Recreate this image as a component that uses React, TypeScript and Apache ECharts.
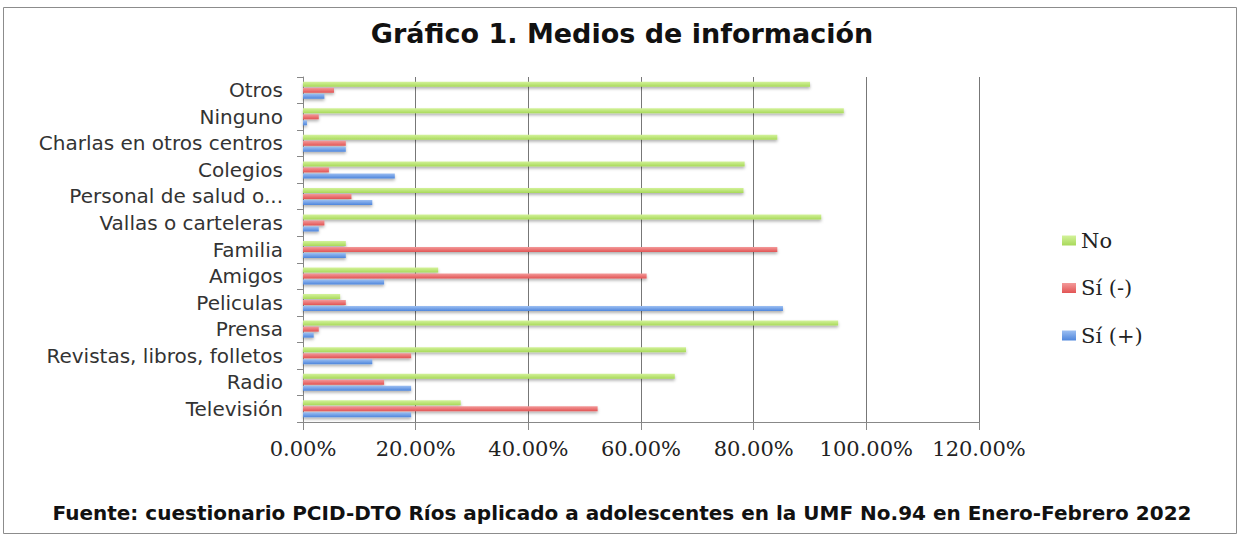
import React, { useEffect, useRef } from "react";
import * as echarts from "echarts";

const categories = [
  "Otros",
  "Ninguno",
  "Charlas en otros centros",
  "Colegios",
  "Personal de salud o...",
  "Vallas o carteleras",
  "Familia",
  "Amigos",
  "Peliculas",
  "Prensa",
  "Revistas, libros, folletos",
  "Radio",
  "Televisión",
];

const seriesNames = ["No", "Sí (-)", "Sí (+)"];

const noValues = [0.9, 0.96, 0.842, 0.784, 0.782, 0.92, 0.076, 0.24, 0.066, 0.95, 0.68, 0.66, 0.28];
const siNegValues = [0.055, 0.028, 0.076, 0.046, 0.086, 0.038, 0.842, 0.61, 0.076, 0.028, 0.192, 0.144, 0.523];
const siPosValues = [0.038, 0.007, 0.076, 0.163, 0.123, 0.028, 0.076, 0.144, 0.852, 0.019, 0.123, 0.192, 0.192];

const xTicks = [0, 0.2, 0.4, 0.6, 0.8, 1.0, 1.2];

const colors = [
  ["#d3f29a", "#a8d95a"],
  ["#f39a9a", "#e25454"],
  ["#9cbff2", "#4f86dc"],
];

export default function App() {
  const ref = useRef<HTMLDivElement>(null);
  useEffect(() => {
    if (!ref.current) return;
    const chart = echarts.init(ref.current, null, { renderer: "svg" });
    const values = [noValues, siNegValues, siPosValues];
    chart.setOption({
      animation: false,
      backgroundColor: "#ffffff",
      title: {
        text: "Gráfico 1. Medios de información",
        left: "center",
        top: 15,
        textStyle: {
          fontFamily: "DejaVu Sans",
          fontWeight: "bold",
          fontSize: 27,
          color: "#111",
        },
      },
      graphic: [
        {
          type: "rect",
          shape: { x: 3.5, y: 7.5, width: 1233, height: 526 },
          style: { fill: "none", stroke: "#8c8c8c", lineWidth: 1 },
          silent: true,
        },
        {
          type: "text",
          left: "center",
          top: 503,
          style: {
            text: "Fuente: cuestionario PCID-DTO Ríos aplicado a adolescentes en la UMF No.94 en Enero-Febrero 2022",
            fontFamily: "DejaVu Sans",
            fontWeight: "bold",
            fontSize: 20,
            fill: "#111",
          },
        },
      ],
      legend: {
        orient: "vertical",
        left: 1057,
        top: 225,
        itemWidth: 14,
        itemHeight: 10,
        itemGap: 26.5,
        icon: "rect",
        data: seriesNames,
        textStyle: { fontFamily: "DejaVu Serif", fontSize: 21, color: "#222" },
      },
      grid: { left: 303, top: 77, right: 265, bottom: 113, containLabel: false },
      xAxis: {
        type: "value",
        min: xTicks[0],
        max: xTicks[xTicks.length - 1],
        interval: 0.2,
        axisLine: { show: true, lineStyle: { color: "#888", width: 1 } },
        axisTick: { show: true, length: 8, lineStyle: { color: "#888" } },
        splitLine: { show: true, lineStyle: { color: "#777", width: 1 } },
        axisLabel: {
          margin: 16,
          fontFamily: "DejaVu Serif",
          fontSize: 21,
          color: "#222",
          formatter: (v: number) => (v * 100).toFixed(2) + "%",
        },
      },
      yAxis: {
        type: "category",
        inverse: true,
        data: categories,
        axisLine: { show: true, lineStyle: { color: "#888", width: 1 } },
        axisTick: { show: true, length: 6, lineStyle: { color: "#888" } },
        axisLabel: {
          margin: 20,
          fontFamily: "DejaVu Sans",
          fontSize: 20,
          color: "#333",
        },
      },
      series: seriesNames.map((name, i) => ({
        name,
        type: "bar",
        data: values[i],
        barWidth: 5,
        barGap: "20%",
        itemStyle: {
          color: new echarts.graphic.LinearGradient(0, 0, 0, 1, [
            { offset: 0, color: colors[i][0] },
            { offset: 1, color: colors[i][1] },
          ]),
          shadowColor: "rgba(0,0,0,0.3)",
          shadowBlur: 3,
          shadowOffsetY: 2,
        },
      })),
      color: colors.map((c) => c[1]),
    });
    return () => chart.dispose();
  }, []);
  return (
    <div
      ref={ref}
      style={{ position: "fixed", left: 0, top: 0, width: 1244, height: 535 }}
    />
  );
}
